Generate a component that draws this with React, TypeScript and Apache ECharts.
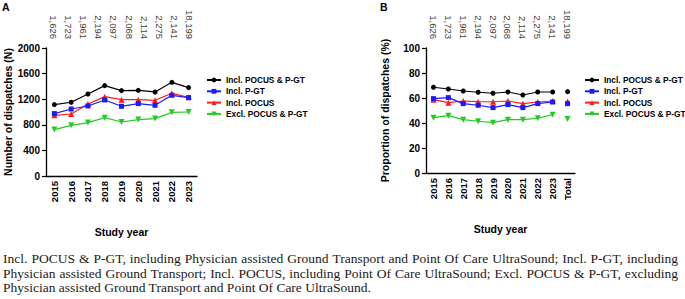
import React, { useEffect, useRef } from "react";
import * as echarts from "echarts";

const years = ["2015", "2016", "2017", "2018", "2019", "2020", "2021", "2022", "2023"];
const yearsTotal = [...years, "Total"];
const topLabels = ["1,626", "1,723", "1,961", "2,194", "2,097", "2,068", "2,114", "2,275", "2,141", "18,199"];

const seriesNames = ["Incl. POCUS & P-GT", "Incl. P-GT", "Incl. POCUS", "Excl. POCUS & P-GT"];

// Panel A: number of dispatches
const countBoth = [1116, 1152, 1281, 1412, 1334, 1339, 1313, 1464, 1381];
const countPGT = [975, 1047, 1094, 1188, 1089, 1131, 1105, 1261, 1225];
const countPOCUS = [948, 969, 1125, 1240, 1193, 1193, 1183, 1292, 1230];
const countExcl = [725, 792, 834, 912, 844, 881, 897, 995, 1000];

// Panel B: proportion of dispatches (%)
const pctBoth = [68.6, 67.2, 65.6, 64.6, 63.8, 64.8, 62.4, 64.8, 64.8];
const pctPGT = [59.5, 60.3, 55.5, 54.2, 52.3, 54.7, 52.3, 55.5, 56.8];
const pctPOCUS = [58.7, 56.3, 57.6, 57.1, 57.0, 57.6, 55.5, 56.8, 57.6];
const pctExcl = [44.3, 45.9, 42.7, 41.4, 40.3, 42.7, 42.7, 43.8, 46.7];
const pctTotal = [65.1, 55.5, 57.2, 43.2];

const colors = ["#000000", "#1a1aff", "#ff1a1a", "#22cc22"];
const symbols = ["circle", "rect", "triangle", "path://M0,0 L10,0 L5,9 Z"];
const symbolSizes = [5, 5, 6, 6];

const FONT = "Liberation Sans";

export default function App() {
  const ref = useRef<HTMLDivElement>(null);

  useEffect(() => {
    if (!ref.current) return;
    const chart = echarts.init(ref.current, undefined, { renderer: "svg" });

    const bottomAxis = (gridIndex: number, data: string[]) => ({
      type: "category",
      gridIndex,
      data,
      position: "bottom",
      boundaryGap: true,
      axisLine: { lineStyle: { color: "#000", width: 1.3 } },
      axisTick: { alignWithLabel: true, length: 4, lineStyle: { color: "#000", width: 1.2 } },
      axisLabel: { rotate: 90, fontFamily: FONT, fontWeight: "bold", fontSize: 9.5, color: "#000", margin: 5 },
      name: "Study year",
      nameLocation: "middle",
      nameGap: 50,
      nameTextStyle: { fontFamily: FONT, fontWeight: "bold", fontSize: 10.5, color: "#000" },
    });

    const topAxis = (gridIndex: number) => ({
      type: "category",
      gridIndex,
      data: topLabels,
      position: "top",
      boundaryGap: true,
      axisLine: { show: false },
      axisTick: { show: false },
      axisLabel: { rotate: 90, fontFamily: FONT, fontSize: 9.5, color: "#444", margin: 9, interval: 0 },
    });

    const yAxis = (gridIndex: number, max: number, interval: number, name: string, nameGap: number) => ({
      type: "value",
      gridIndex,
      min: 0,
      max,
      interval,
      axisLine: { show: true, lineStyle: { color: "#000", width: 1.3 } },
      axisTick: { show: true, length: 4, lineStyle: { color: "#000", width: 1.2 } },
      splitLine: { show: false },
      axisLabel: {
        fontFamily: FONT,
        fontWeight: "bold",
        fontSize: 10,
        color: "#000",
        margin: 6,
        formatter: (v: number) => String(v),
      },
      name,
      nameLocation: "middle",
      nameGap,
      nameTextStyle: { fontFamily: FONT, fontWeight: "bold", fontSize: 10.5, color: "#000" },
    });

    const countData = [countBoth, countPGT, countPOCUS, countExcl];
    const pctData = [pctBoth, pctPGT, pctPOCUS, pctExcl];

    const series: any[] = [];
    const order = [3, 2, 1, 0];
    order.forEach((i) => {
      const common = {
        name: seriesNames[i],
        type: "line",
        symbol: symbols[i],
        symbolSize: symbolSizes[i],
        showAllSymbol: true,
        itemStyle: { color: colors[i] },
        lineStyle: { color: colors[i], width: 1.2 },
        z: 2 + (3 - i),
      };
      series.push({ ...common, xAxisIndex: 0, yAxisIndex: 0, data: countData[i] });
      series.push({ ...common, xAxisIndex: 2, yAxisIndex: 1, data: [...pctData[i], null], connectNulls: false });
      series.push({
        ...common,
        xAxisIndex: 2,
        yAxisIndex: 1,
        data: [...years.map(() => null), pctTotal[i]],
        lineStyle: { width: 0, color: colors[i] },
      });
    });

    const legend = (left: number) => ({
      orient: "vertical",
      left,
      top: 76,
      padding: 0,
      data: seriesNames,
      itemWidth: 14,
      itemHeight: 6,
      itemGap: 3.3,
      selectedMode: false,
      textStyle: { fontFamily: FONT, fontWeight: "bold", fontSize: 8.3, color: "#000" },
    });

    chart.setOption({
      animation: false,
      backgroundColor: "#fff",
      grid: [
        { left: 46, top: 48, width: 151, height: 128 },
        { left: 426, top: 48, width: 149, height: 125 },
      ],
      xAxis: [bottomAxis(0, years), topAxis(0), bottomAxis(1, yearsTotal), topAxis(1)],
      yAxis: [
        yAxis(0, 2000, 400, "Number of dispatches (N)", 28),
        yAxis(1, 100, 20, "Proportion of dispatches (%)", 36),
      ],
      legend: [legend(206), legend(584)],
      series,
      graphic: [
        { type: "text", left: 2, top: 1, style: { text: "A", fontFamily: FONT, fontWeight: "bold", fontSize: 10.5, fill: "#000" } },
        { type: "text", left: 380, top: 1, style: { text: "B", fontFamily: FONT, fontWeight: "bold", fontSize: 10.5, fill: "#000" } },
      ],
    });

    return () => chart.dispose();
  }, []);

  const capStyle: React.CSSProperties = {
    fontFamily: "'Liberation Serif', serif",
    fontSize: 13.5,
    lineHeight: "14.5px",
    color: "#1a1a1a",
    whiteSpace: "nowrap",
  };

  return (
    <div style={{ position: "absolute", left: 0, top: 0, width: 685, height: 299, background: "#fff", overflow: "hidden" }}>
      <div ref={ref} style={{ position: "absolute", left: 0, top: 0, width: 685, height: 245 }} />
      <div style={{ position: "absolute", left: 3, top: 252, width: 675 }}>
        <div style={{ ...capStyle, textAlign: "justify", textAlignLast: "justify" }}>
          Incl. POCUS &amp; P-GT, including Physician assisted Ground Transport and Point Of Care UltraSound; Incl. P-GT, including
        </div>
        <div style={{ ...capStyle, textAlign: "justify", textAlignLast: "justify" }}>
          Physician assisted Ground Transport; Incl. POCUS, including Point Of Care UltraSound; Excl. POCUS &amp; P-GT, excluding
        </div>
        <div style={capStyle}>
          Physician assisted Ground Transport and Point Of Care UltraSound.
        </div>
      </div>
    </div>
  );
}
